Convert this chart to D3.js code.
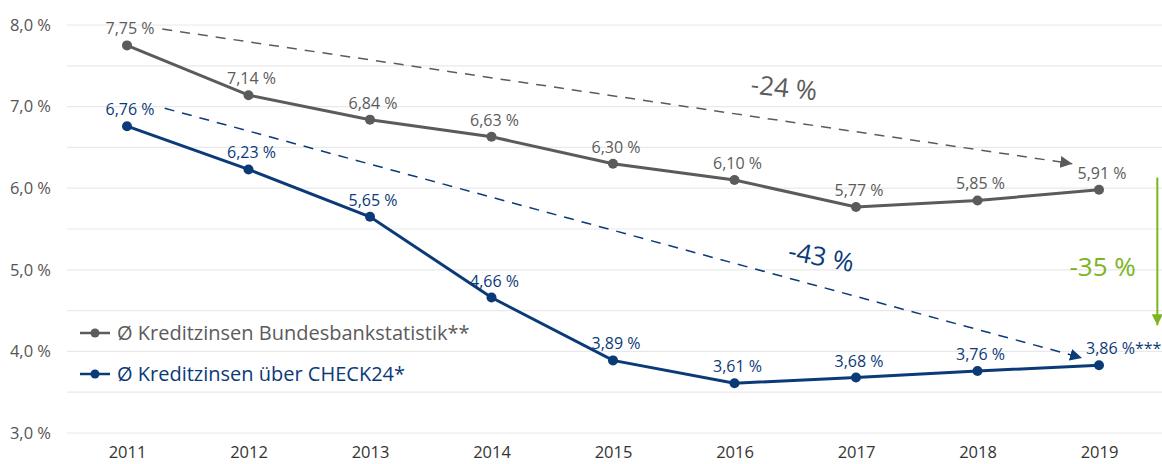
<!DOCTYPE html>
<html><head><meta charset="utf-8">
<script src="https://cdn.jsdelivr.net/npm/d3@7"></script>
<style>body{margin:0;background:#fff}svg{display:block;font-family:"Open Sans",sans-serif}</style>
</head><body>
<svg id="c" width="1162" height="464"></svg>
<script>
const years = [2011,2012,2013,2014,2015,2016,2017,2018,2019];
const bundesbank = [7.75,7.14,6.84,6.63,6.30,6.10,5.77,5.85,5.98];
const bundesbankLabels = ["7,75 %","7,14 %","6,84 %","6,63 %","6,30 %","6,10 %","5,77 %","5,85 %","5,91 %"];
const check24 = [6.76,6.23,5.65,4.66,3.89,3.61,3.68,3.76,3.83];
const check24Labels = ["6,76 %","6,23 %","5,65 %","4,66 %","3,89 %","3,61 %","3,68 %","3,76 %","3,86 %***"];
const yTicks = [3,4,5,6,7,8];
const yGrid = [3,3.5,4,4.5,5,5.5,6,6.5,7,7.5,8];
const legendLabels = ["Ø Kreditzinsen Bundesbankstatistik**","Ø Kreditzinsen über CHECK24*"];
const annotations = ["-24 %","-43 %","-35 %"];

const GRAY="#5b5b5b", BLUE="#0b3a78", GREEN="#7cb51f";
const svg = d3.select("#c");
const x = d3.scaleLinear().domain([2011,2019]).range([127,1099]);
const y = d3.scaleLinear().domain([3,8]).range([433,25]);

// grid
svg.append("g").selectAll("line").data(yGrid).join("line")
  .attr("x1",67).attr("x2",1162).attr("y1",d=>y(d)).attr("y2",d=>y(d))
  .attr("stroke","#e9e9e9").attr("stroke-width",1.2);

// y axis
const fmt = d => d.toFixed(1).replace(".",",")+" %";
const ya = svg.append("g").attr("transform","translate(51,0)")
  .call(d3.axisLeft(y).tickValues(yTicks).tickFormat(fmt).tickSize(0).tickPadding(0));
ya.select(".domain").remove();
ya.selectAll("text").attr("font-family","Open Sans").attr("font-size",16.5).attr("fill","#555").attr("dy","0.32em");

// x axis
const xa = svg.append("g").attr("transform","translate(0,446)")
  .call(d3.axisBottom(x).tickValues(years).tickFormat(d3.format("d")).tickSize(0).tickPadding(0));
xa.select(".domain").remove();
xa.selectAll("text").attr("font-family","Open Sans").attr("font-size",16.5).attr("fill","#333").attr("dy","0.71em");

// markers
const defs = svg.append("defs");
[["aG",GRAY],["aB",BLUE],["aGr",GREEN]].forEach(([id,c])=>{
  defs.append("marker").attr("id",id).attr("viewBox","0 0 10 10").attr("refX",10).attr("refY",5)
   .attr("markerWidth",id==="aGr"?11:12).attr("markerHeight",id==="aGr"?11:12).attr("markerUnits","userSpaceOnUse").attr("orient","auto")
   .append("path").attr("d","M0,0L10,5L0,10z").attr("fill",c);
});

// dashed trend arrows
svg.append("line").attr("x1",x(2011.29)).attr("y1",y(7.95)).attr("x2",x(2018.78)).attr("y2",y(6.3))
  .attr("stroke",GRAY).attr("stroke-width",1.5).attr("stroke-dasharray","10,8").attr("marker-end","url(#aG)");
svg.append("line").attr("x1",x(2011.31)).attr("y1",y(6.98)).attr("x2",x(2018.86)).attr("y2",y(3.92))
  .attr("stroke",BLUE).attr("stroke-width",1.5).attr("stroke-dasharray","10,8").attr("marker-end","url(#aB)");
// green arrow
svg.append("line").attr("x1",x(2019.48)).attr("y1",y(6.13)).attr("x2",x(2019.48)).attr("y2",y(4.32))
  .attr("stroke",GREEN).attr("stroke-width",2).attr("marker-end","url(#aGr)");

// lines
const line = d3.line().x((d,i)=>x(years[i])).y(d=>y(d));
function series(vals,labels,color){
  svg.append("path").datum(vals).attr("d",line).attr("fill","none").attr("stroke",color).attr("stroke-width",3);
  svg.append("g").selectAll("circle").data(vals).join("circle")
    .attr("cx",(d,i)=>x(years[i])).attr("cy",d=>y(d)).attr("r",5).attr("fill",color);
  svg.append("g").selectAll("text").data(vals).join("text")
    .attr("x",(d,i)=> labels[i].length>7 ? x(years[i])-13 : x(years[i])+3)
    .attr("y",d=>y(d)-11)
    .attr("text-anchor",(d,i)=> labels[i].length>7 ? "start" : "middle")
    .attr("font-size",16).attr("fill",color)
    .text((d,i)=>labels[i]);
}
series(bundesbank,bundesbankLabels,GRAY);
series(check24,check24Labels,BLUE);

// annotation texts
svg.append("text").attr("transform",`translate(${x(2016.4)},${y(7.12)}) rotate(6)`).attr("text-anchor","middle")
  .attr("font-size",26).attr("fill",GRAY).text(annotations[0]);
svg.append("text").attr("transform",`translate(${x(2016.7)},${y(5.05)}) rotate(11)`).attr("text-anchor","middle")
  .attr("font-size",26).attr("fill",BLUE).text(annotations[1]);
svg.append("text").attr("x",x(2019.03)).attr("y",y(4.92)).attr("text-anchor","middle")
  .attr("font-size",26).attr("fill",GREEN).text(annotations[2]);

// legend
const lg = svg.append("g");
[[GRAY,333],[BLUE,374]].forEach(([c,ly],i)=>{
  lg.append("line").attr("x1",80).attr("x2",110).attr("y1",ly).attr("y2",ly).attr("stroke",c).attr("stroke-width",2.5);
  lg.append("circle").attr("cx",95).attr("cy",ly).attr("r",4.5).attr("fill",c);
  lg.append("text").attr("x",117).attr("y",ly+7).attr("font-size",20).attr("fill",c).text(legendLabels[i]);
});
</script>
</body></html>
